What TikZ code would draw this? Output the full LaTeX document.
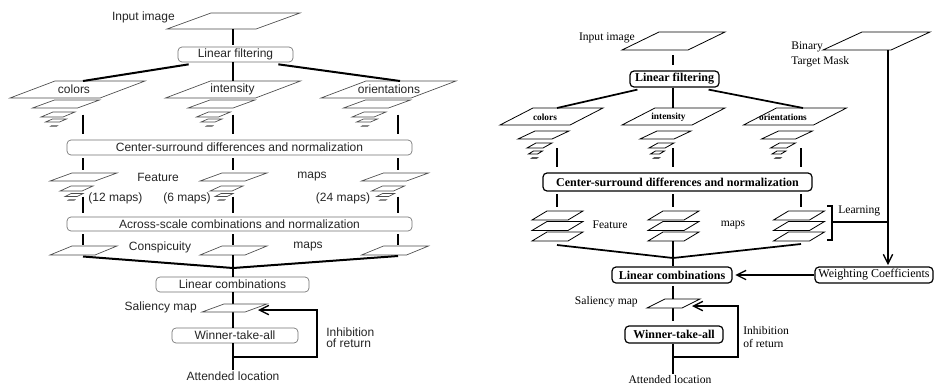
\documentclass[tikz,border=0pt]{standalone}
\usepackage{fontspec}
\newfontfamily\lsans{Liberation Sans}
\newfontfamily\rserif{Liberation Serif}
\usetikzlibrary{arrows.meta,calc}

% a flat image plane drawn as a parallelogram: name, cx, cy, width, skew, height
\newcommand\slab[6]{%
  \path[slabline] ({#2-(#4+#5)/2},{#3+#6/2}) -- ++({#4},0) -- ++({#5},{-#6}) -- ++({-#4},0) -- cycle;
  \coordinate (#1) at ({#2},{#3});
  \coordinate (#1t) at ({#2},{#3-#6/2});
  \coordinate (#1b) at ({#2},{#3+#6/2});}

% image pyramid, sans model
\newcommand\pyrL[2]{%
  \slab{#1-1}{#2}{89.5}{90}{45}{17}
  \slab{#1-2}{#2-11.5}{104}{45}{22}{8}
  \slab{#1-3}{#2-19.5}{114.5}{22}{12}{5}
  \slab{#1-4}{#2-21.5}{120.5}{14}{7}{3}
  \slab{#1-5}{#2-23.5}{126}{6}{1}{0.6}}
% feature map stack, sans model
\newcommand\featL[2]{%
  \slab{#1-1}{#2}{177}{45}{22}{8}
  \slab{#1-2}{#2-7}{188.5}{22}{11}{5}
  \slab{#1-3}{#2-9.5}{195}{12}{6}{3}
  \slab{#1-4}{#2-12}{200}{6}{1}{0.6}}
% image pyramid, serif model
\newcommand\pyrR[2]{%
  \slab{#1-1}{#2}{116.5}{70}{33}{17}
  \slab{#1-2}{#2-8}{135}{34}{17}{8}
  \slab{#1-3}{#2-12}{145.5}{16}{9}{5}
  \slab{#1-4}{#2-16}{152.5}{9}{5}{3}
  \slab{#1-5}{#2-17}{158}{5}{1}{0.6}}
% feature map stack, serif model
\newcommand\featR[2]{%
  \slab{#1-1}{#2}{215.5}{36}{15}{9}
  \slab{#1-2}{#2}{226}{36}{15}{9}
  \slab{#1-3}{#2}{236.5}{36}{15}{9}}

\begin{document}
\begin{tikzpicture}[x=0.75pt,y=-0.75pt,
  lsl/.style={font=\lsans\fontsize{9}{8.4}\selectfont, inner sep=0pt, text=black!85},
  lbox/.style={draw=black!55, line width=0.5pt, rounded corners=3pt, fill=white,
    minimum height=15*0.75pt, inner sep=0pt, text=black!85,
    font=\lsans\fontsize{9}{10}\selectfont},
  rbox/.style={draw=black, line width=0.9pt, rounded corners=3pt, fill=white,
    minimum height=16*0.75pt, inner sep=0pt, font=\rserif\bfseries\fontsize{9}{10}\selectfont},
  rsl/.style={font=\rserif\fontsize{8.7}{9}\selectfont, inner sep=0pt},
  rsmall/.style={font=\rserif\bfseries\fontsize{7}{8}\selectfont, inner sep=0pt},
  slabline/.style={draw=black!70, line width=0.5pt, fill=white},
  link/.style={line width=1.5pt},
  rlink/.style={line width=1.3pt},
  fb/.style={line width=1.3pt, -{Straight Barb[length=7pt,width=7pt,line width=1pt]}}]

\useasboundingbox (0,0) rectangle (934,386);
\fill[white] (0,0) rectangle (934,386);

%================ sans model ================
\coordinate (axL1) at (83,0);
\coordinate (axL2) at (233,0);
\coordinate (axL3) at (398,0);

\slab{inL}{233.5}{21}{89}{44}{16}
\node[lsl,anchor=east] (inLlab) at (175,17) {Input image};
\node[lbox,minimum width=115*0.75pt] (lfL) at (235.5,54.5) {Linear filtering};
\draw[link,shorten >=1pt] (axL2 |- inLb) -- (axL2 |- lfL.north);

\pyrL{colL}{77.5}
\pyrL{intL}{233}
\pyrL{oriL}{388.5}
\node[lsl] (colLlab) at (74,89) {colors};
\node[lsl] (intLlab) at (232.5,89) {intensity};
\node[lsl] (oriLlab) at (389,89) {orientations};

\draw[link] ($(lfL.south west)+(11,2)$) -- (axL1 |- colL-1t);
\draw[link] (axL2 |- lfL.south) -- (axL2 |- intL-1t);
\draw[link] ($(lfL.south east)+(-15,2)$) -- ($(axL3 |- oriL-1t)+(2,0)$);

\node[lbox,minimum width=345*0.75pt] (csL) at (239.5,147.5)
  {Center-surround differences and normalization};
\foreach \a/\p in {axL1/colL,axL2/intL,axL3/oriL}
  \draw[link,shorten >=4pt] (\a |- \p-3) -- (\a |- csL.north);

\featL{colF}{83.5}
\featL{intF}{233.5}
\featL{oriF}{395}
\foreach \a/\p in {axL1/colF,axL2/intF,axL3/oriF}
  \draw[link,shorten <=2pt,shorten >=2pt] (\a |- csL.south) -- (\a |- \p-1t);
\node[lsl] (featLlab) at (158,177) {Feature};
\node[lsl] (mapsLlab) at (312,177) {maps};
\node[lsl] (n12) at (115.5,198) {(12 maps)};
\node[lsl] (n6) at (187,198) {(6 maps)};
\node[lsl] (n24) at (343,198) {(24 maps)};

\node[lbox,minimum width=345*0.75pt,minimum height=14*0.75pt] (asL) at (239.5,224)
  {Across-scale combinations and normalization};
\foreach \a/\p in {axL1/colF,axL2/intF,axL3/oriF}
  \draw[link,shorten >=3pt] (\a |- \p-3b) -- (\a |- asL.north);

\slab{conL1}{83.5}{250.5}{45}{22}{9}
\slab{conL2}{233.5}{250.5}{45}{22}{9}
\slab{conL3}{395}{250.5}{45}{22}{9}
\foreach \a/\p in {axL1/conL1,axL2/conL2,axL3/conL3}
  \draw[link,shorten <=2pt,shorten >=0.5pt] (\a |- asL.south) -- (\a |- \p t);
\node[lsl] (conspLlab) at (160,247) {Conspicuity};
\node[lsl] (maps2Llab) at (308,247) {maps};

\node[lbox,minimum width=153*0.75pt] (lcL) at (232.5,284.5) {Linear combinations};
\coordinate (jL) at (233,268);
\draw[link] ($(axL1 |- conL1b)+(0,1.5)$) -- (jL);
\draw[link] ($(axL3 |- conL3b)+(0,1)$) -- (jL);
\draw[link] (axL2 |- conL2b) -- (axL2 |- lcL.north);

\node[lbox,minimum width=126*0.75pt] (wtaL) at (235,335.5) {Winner-take-all};
\draw[link] (axL2 |- lcL.south) -- (axL2 |- wtaL.north);
\slab{salL}{234.5}{308}{43}{22}{8}
\node[lsl,anchor=east] (salLlab) at (197,307) {Saliency map};
\node[lsl] (attL) at (233,376) {Attended location};
\draw[link,shorten >=1pt] (axL2 |- wtaL.south) -- (attL.north);
\coordinate (fbL) at (233,357);
\coordinate (iorL) at (258,310);
\draw[fb] (fbL) -- ++(84,0) |- (iorL);
\node[lsl,anchor=west,align=left] (inhL) at (326,337.5) {Inhibition\\of return};

%================ serif model ================
\begin{scope}[slabline/.style={draw=black, line width=0.6pt, fill=white}]
\coordinate (axR1) at (557,0);
\coordinate (axR2) at (673,0);
\coordinate (axR3) at (801,0);
\coordinate (axM) at (888,0);

\slab{inR}{673.5}{41}{66}{37}{18}
\node[rsl,anchor=east] (inRlab) at (635,38) {Input image};
\node[rbox,minimum width=89*0.75pt] (lfR) at (674.5,79) {Linear filtering};
\draw[rlink,shorten <=4pt,shorten >=4pt] (axR2 |- inRb) -- (axR2 |- lfR.north);

\slab{maskR}{876.5}{41}{68}{39}{18}
\node[rsl,anchor=west] (binR) at (791,47) {Binary};
\node[rsl,anchor=west] (tmR) at (791,62) {Target Mask};

\pyrR{colR}{551.5}
\pyrR{intR}{673.5}
\pyrR{oriR}{795}
\node[rsmall] (colRlab) at (545,117) {colors};
\node[rsmall] (intRlab) at (668.5,117) {intensity};
\node[rsmall] (oriRlab) at (783,117) {orientations};

\draw[rlink] ($(lfR.south west)+(8,2)$) -- (axR1 |- colR-1t);
\draw[rlink] (axR2 |- lfR.south) -- (axR2 |- intR-1t);
\draw[rlink] ($(lfR.south east)+(-11,2)$) -- ($(axR3 |- oriR-1t)+(2,0)$);

\node[rbox,minimum width=269*0.75pt,minimum height=18*0.75pt] (csR) at (677.5,182)
  {Center-surround differences and normalization};
\foreach \a/\p in {axR1/colR,axR2/intR,axR3/oriR}
  \draw[rlink,shorten >=4pt] (\a |- \p-3b) -- (\a |- csR.north);

\featR{colRF}{557.5}
\featR{intRF}{673.5}
\featR{oriRF}{799}
\foreach \a/\p in {axR1/colRF,axR2/intRF,axR3/oriRF}
  \draw[rlink,shorten <=2pt,shorten >=3pt] (\a |- csR.south) -- (\a |- \p-1t);
\node[rsl] (featRlab) at (610,225) {Feature};
\node[rsl] (mapsRlab) at (733,225) {maps};

% learning bracket joined to the mask line
\coordinate (brT) at (827,206);
\coordinate (brB) at (827,240);
\coordinate (brM) at (832,222);
\draw[line width=1pt] (brT) -- ++(5,0) -- ($(brB)+(5,0)$) -- (brB);
\draw[rlink] (brM) -- (axM |- brM);
\node[rsl,anchor=west] (learnR) at (838,211) {Learning};

\node[rbox,minimum width=120*0.75pt] (lcR) at (672,275) {Linear combinations};
\node[rbox,minimum width=118*0.75pt,font=\rserif\fontsize{9}{10}\selectfont] (wcR) at (874,275)
  {Weighting Coefficients};
\coordinate (jR) at (673,258);
\draw[rlink] ($(axR1 |- colRF-3b)+(0,4)$) -- (jR);
\draw[rlink] ($(axR3 |- oriRF-3b)+(0,3)$) -- (jR);
\draw[rlink] (axR2 |- intRF-3b) -- (axR2 |- lcR.north);
\draw[fb,shorten >=2pt] (wcR.west) -- (lcR.east);
\draw[fb,shorten >=1pt] (axM |- maskRb) -- (axM |- wcR.north);

\node[rbox,minimum width=98*0.75pt,minimum height=17*0.75pt] (wtaR) at (674,334.5) {Winner-take-all};
\draw[rlink,shorten <=2pt,shorten >=3pt] (axR2 |- lcR.south) -- (axR2 |- wtaR.north);
\slab{salR}{673.5}{303.5}{35}{18}{9}
\node[rsl,anchor=east] (salRlab) at (638,302) {Saliency map};
\node[rsl] (attR) at (670,380) {Attended location};
\draw[rlink,shorten >=1pt] (axR2 |- wtaR.south) -- (axR2 |- attR.north);
\coordinate (fbR) at (673,357);
\coordinate (iorR) at (692,306);
\draw[fb] (fbR) -- ++(65,0) |- (iorR);
\node[rsl,anchor=west] (inhR) at (743,331) {Inhibition};
\node[rsl,anchor=west] (retR) at (743,343) {of return};
\end{scope}
\end{tikzpicture}
\end{document}
